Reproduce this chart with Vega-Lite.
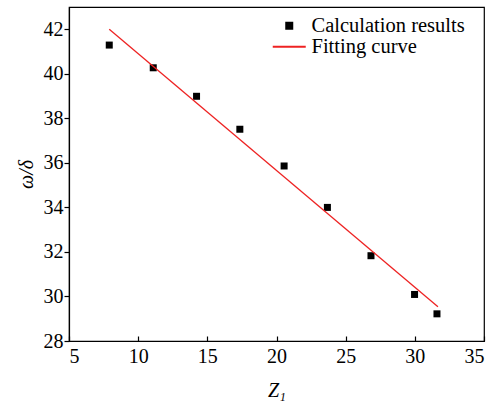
{
  "$schema": "https://vega.github.io/schema/vega-lite/v6.json",
  "width": 415,
  "height": 334,
  "autosize": {"type": "none"},
  "padding": {"left": 69, "top": 7, "right": 12, "bottom": 62},
  "background": "white",
  "config": {
    "font": "Liberation Serif",
    "view": {"stroke": "black", "strokeWidth": 1.2},
    "axis": {
      "grid": false,
      "domainColor": "black",
      "tickColor": "black",
      "labelColor": "black",
      "titleColor": "black",
      "labelFont": "Liberation Serif",
      "titleFont": "Liberation Serif",
      "labelFontSize": 20,
      "titleFontSize": 20,
      "titleFontWeight": "normal",
      "titleFontStyle": "italic",
      "domainWidth": 1.2,
      "tickWidth": 1.2
    },
    "legend": {
      "labelFont": "Liberation Serif",
      "labelFontSize": 20.5,
      "labelColor": "black",
      "labelLimit": 0
    }
  },
  "datasets": {
    "points": [
      {"Z1": 7.91, "w": 41.29, "series": "Calculation results"},
      {"Z1": 11.09, "w": 40.27, "series": "Calculation results"},
      {"Z1": 14.22, "w": 38.99, "series": "Calculation results"},
      {"Z1": 17.35, "w": 37.51, "series": "Calculation results"},
      {"Z1": 20.55, "w": 35.86, "series": "Calculation results"},
      {"Z1": 23.68, "w": 34.0, "series": "Calculation results"},
      {"Z1": 26.83, "w": 31.83, "series": "Calculation results"},
      {"Z1": 29.98, "w": 30.09, "series": "Calculation results"},
      {"Z1": 31.6, "w": 29.22, "series": "Calculation results"}
    ],
    "fit": [
      {"Z1": 7.91, "w": 42.0, "series": "Fitting curve"},
      {"Z1": 31.67, "w": 29.54, "series": "Fitting curve"}
    ]
  },
  "layer": [
    {
      "data": {"name": "points"},
      "mark": {"type": "point", "shape": "square", "filled": true, "size": 49, "opacity": 1},
      "encoding": {
        "x": {
          "field": "Z1",
          "type": "quantitative",
          "scale": {"domain": [5, 35], "nice": false, "zero": false},
          "axis": {
            "title": "Z₁",
            "values": [5, 10, 15, 20, 25, 30, 35],
            "tickSize": -5,
            "labelPadding": 10,
            "titlePadding": 14
          }
        },
        "y": {
          "field": "w",
          "type": "quantitative",
          "scale": {"domain": [28, 43], "nice": false, "zero": false},
          "axis": {
            "title": "ω/δ",
            "values": [28, 30, 32, 34, 36, 38, 40, 42],
            "tickSize": 5,
            "labelPadding": 1,
            "titlePadding": 7
          }
        },
        "color": {
          "field": "series",
          "type": "nominal",
          "scale": {"domain": ["Calculation results", "Fitting curve"], "range": ["black", "#ee2222"]},
          "legend": {
            "title": null,
            "orient": "none",
            "legendX": 210,
            "legendY": 8.5,
            "symbolSize": 1089,
            "labelOffset": 12,
            "rowPadding": -11.5,
            "padding": 0,
            "labelLimit": 0,
            "encode": {
              "symbols": {
                "update": {
                  "shape": {"signal": "datum.value === 'Fitting curve' ? 'stroke' : 'square'"},
                  "size": {"signal": "datum.value === 'Fitting curve' ? 1089 : 36"},
                  "fill": {"signal": "datum.value === 'Fitting curve' ? 'transparent' : 'black'"},
                  "stroke": {"signal": "datum.value === 'Fitting curve' ? '#ee2222' : 'transparent'"},
                  "strokeWidth": {"value": 2},
                  "opacity": {"value": 1}
                }
              }
            }
          }
        }
      }
    },
    {
      "data": {"name": "fit"},
      "mark": {"type": "line", "strokeWidth": 1.3},
      "encoding": {
        "x": {"field": "Z1", "type": "quantitative"},
        "y": {"field": "w", "type": "quantitative"},
        "color": {
          "field": "series",
          "type": "nominal",
          "legend": {
            "title": null,
            "orient": "none",
            "legendX": 210,
            "legendY": 8.5,
            "symbolSize": 1089,
            "labelOffset": 12,
            "rowPadding": -11.5,
            "padding": 0,
            "labelLimit": 0,
            "encode": {
              "symbols": {
                "update": {
                  "shape": {"signal": "datum.value === 'Fitting curve' ? 'stroke' : 'square'"},
                  "size": {"signal": "datum.value === 'Fitting curve' ? 1089 : 36"},
                  "fill": {"signal": "datum.value === 'Fitting curve' ? 'transparent' : 'black'"},
                  "stroke": {"signal": "datum.value === 'Fitting curve' ? '#ee2222' : 'transparent'"},
                  "strokeWidth": {"value": 2},
                  "opacity": {"value": 1}
                }
              }
            }
          }
        }
      }
    }
  ]
}
